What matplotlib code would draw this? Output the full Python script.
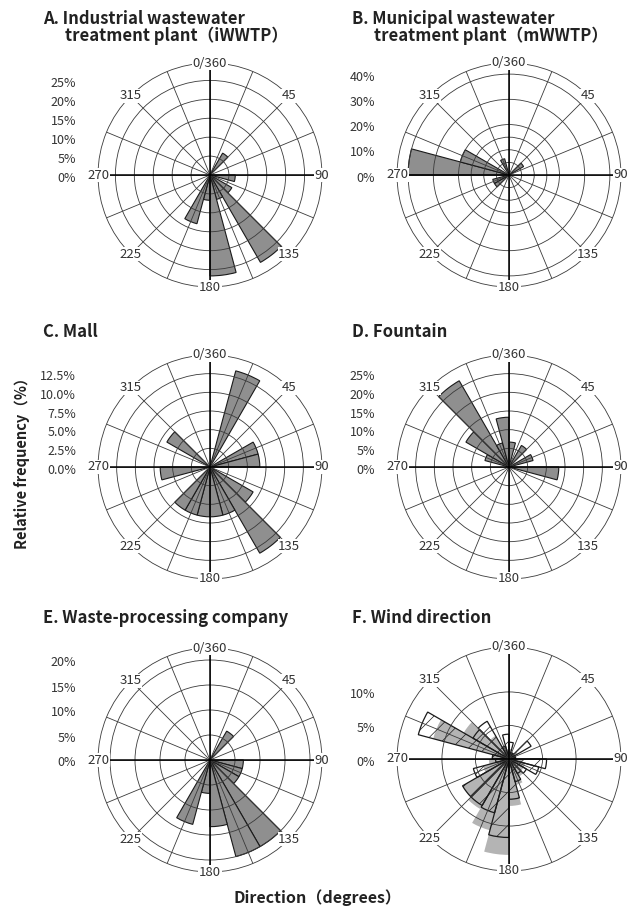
import numpy as np
import matplotlib
matplotlib.use("Agg")
import matplotlib.pyplot as plt

plt.rcParams['font.family'] = ['Noto Sans CJK JP', 'DejaVu Sans']
plt.rcParams['hatch.linewidth'] = 0.5

# 24 direction bins of 15 degrees, given by their start angle
bin_starts = np.arange(0, 360, 15)

# relative frequency (%) in each bin
iwwtp = [0, 0, 6.67, 0, 0, 0, 6.67, 0, 6.67, 26.67, 6.67, 26.67,
         6.67, 13.33, 0, 0, 0, 0, 0, 0, 0, 0, 0, 0]
mwwtp = [0, 0, 0, 6.67, 0, 0, 0, 0, 0, 0, 0, 0,
         0, 0, 0, 6.67, 6.67, 0, 40, 20, 0, 0, 6.67, 0]
mall = [0, 13.33, 0, 0, 6.67, 6.67, 0, 0, 6.67, 13.33, 6.67, 6.67,
        6.67, 6.67, 6.67, 0, 0, 6.67, 0, 0, 6.67, 0, 0, 0]
fountain = [6.67, 0, 6.67, 0, 6.67, 0, 13.33, 0, 0, 0, 0, 0,
            0, 0, 0, 0, 0, 0, 0, 6.67, 13.33, 26.67, 6.67, 13.33]
waste = [0, 0, 6.67, 0, 0, 0, 6.67, 6.67, 6.67, 20, 20, 13.33,
         6.67, 13.33, 0, 0, 0, 0, 0, 0, 0, 0, 0, 0]
# wind: long-term (gray) and sampling period (outlined, hatched)
wind_a = [1.5, 1, 1, 1.5, 1, 1, 2, 2.5, 2.5, 3, 4, 7,
          14.3, 11, 8.6, 8, 4, 3, 2.5, 11.7, 7.8, 4, 2, 1.5]
wind_b = [2.5, 1, 1, 3.8, 1, 1, 5.6, 4.6, 3, 2.5, 3.5, 6,
          11.7, 8.3, 8, 8, 5.5, 2, 2.5, 14, 6.2, 6.5, 2, 3.7]

angle_ticks = [0, 45, 90, 135, 180, 225, 270, 315]
angle_labels = ['0/360', '45', '90', '135', '180', '225', '270', '315']

panels = [
    dict(vals=[iwwtp], rmax=29.6, rings=[5, 10, 15, 20, 25],
         labels=['0%', '5%', '10%', '15%', '20%', '25%'], ticks=[0, 5, 10, 15, 20, 25],
         title=['A. Industrial wastewater', 'treatment plant（iWWTP）'],
         c=(210, 175), tpos=(43, 19)),
    dict(vals=[mwwtp], rmax=44.4, rings=[5, 10, 15, 20, 30, 40],
         labels=['0%', '10%', '20%', '30%', '40%'], ticks=[0, 10, 20, 30, 40],
         title=['B. Municipal wastewater', 'treatment plant（mWWTP）'],
         c=(509, 175), tpos=(352, 19)),
    dict(vals=[mall], rmax=15, rings=[2.5, 5, 7.5, 10, 12.5],
         labels=['0.0%', '2.5%', '5.0%', '7.5%', '10.0%', '12.5%'], ticks=[0, 2.5, 5, 7.5, 10, 12.5],
         title=['C. Mall'], c=(210, 467), tpos=(43, 332)),
    dict(vals=[fountain], rmax=30, rings=[5, 10, 15, 20, 25],
         labels=['0%', '5%', '10%', '15%', '20%', '25%'], ticks=[0, 5, 10, 15, 20, 25],
         title=['D. Fountain'], c=(509, 467), tpos=(352, 332)),
    dict(vals=[waste], rmax=22.4, rings=[5, 10, 15, 20],
         labels=['0%', '5%', '10%', '15%', '20%'], ticks=[0, 5, 10, 15, 20],
         title=['E. Waste-processing company'], c=(210, 760), tpos=(43, 618)),
    dict(vals=[wind_a, wind_b], rmax=16.7, rings=[5, 10],
         labels=['0%', '5%', '10%'], ticks=[0, 5, 10],
         title=['F. Wind direction'], c=(509, 759), tpos=(352, 618)),
]

W, H = 633, 909
R = 112
fig = plt.figure(figsize=(W / 100, H / 100), dpi=100)

for p in panels:
    cx, cy = p['c']
    ax = fig.add_axes([(cx - R) / W, 1 - (cy + R) / H, 2 * R / W, 2 * R / H], projection='polar')
    ax.set_theta_zero_location('N')
    ax.set_theta_direction(-1)
    theta = np.deg2rad(bin_starts)
    width = np.deg2rad(15)
    if len(p['vals']) == 1:
        ax.bar(theta, p['vals'][0], width=width, align='edge', color='#8f8f8f',
               edgecolor='#1a1a1a', linewidth=0.8, zorder=1)
    else:
        ax.bar(theta, p['vals'][0], width=width, align='edge', color='#b4b4b4',
               edgecolor='none', zorder=1)
        ax.bar(theta, p['vals'][1], width=width, align='edge', color='none',
               edgecolor='#1a1a1a', linewidth=0.9, hatch='//', zorder=1.5)
    ax.set_ylim(0, p['rmax'])
    ax.set_xticks(np.deg2rad(np.arange(0, 360, 22.5)), labels=[''] * 16)
    ax.set_yticks(p['rings'], labels=[''] * len(p['rings']))
    ax.set_axisbelow(False)
    ax.grid(True, color='#3a3a3a', linewidth=0.6)
    ax.spines['polar'].set_linewidth(0.6)
    ax.spines['polar'].set_color('#3a3a3a')
    ax.tick_params(length=0)
    for t in [0, 90, 180, 270]:
        ax.plot([np.deg2rad(t)] * 2, [0, p['rmax']], color='black', linewidth=1.1, zorder=4)
    for t, lab in zip(angle_ticks, angle_labels):
        ax.text(np.deg2rad(t), p['rmax'], lab, ha='center', va='center', fontsize=9.5,
                color='#333333', zorder=5, clip_on=False,
                bbox=dict(boxstyle='square,pad=0.05', fc='white', ec='none'))
    for t, lab in zip(p['ticks'], p['labels']):
        ax.text(-0.098, 0.5 + t / (2 * p['rmax']) - 3.0 / (2 * R), lab, transform=ax.transAxes,
                ha='right', va='center', fontsize=9, color='#333333')
    tx, ty = p['tpos']
    fig.text(tx / W, 1 - ty / H, p['title'][0], fontsize=12, fontweight='bold',
             va='center', ha='left', color='#222222')
    if len(p['title']) > 1:
        fig.text((tx + 22) / W, 1 - (ty + 17) / H, p['title'][1], fontsize=12,
                 fontweight='bold', va='center', ha='left', color='#222222')

fig.text(22 / W, 1 - 460 / H, 'Relative frequency（%）', rotation=90, fontsize=10.5,
         fontweight='bold', ha='center', va='center', color='#222222')
fig.text(317 / W, 1 - 898 / H, 'Direction（degrees）', fontsize=11.5,
         fontweight='bold', ha='center', va='center', color='#222222')

fig.savefig('out.png', dpi=100)
